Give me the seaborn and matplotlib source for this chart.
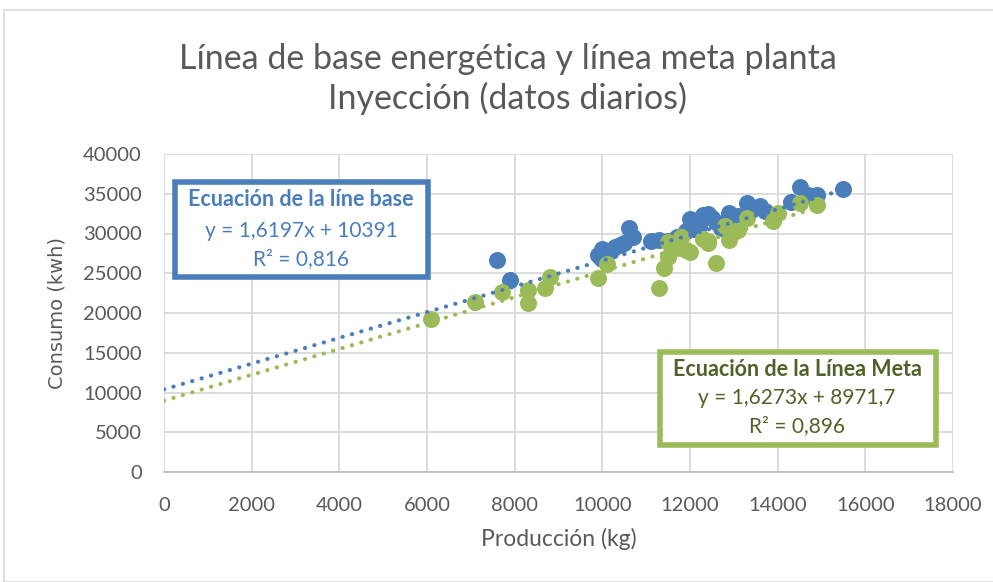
import numpy as np
import pandas as pd
import seaborn as sns
import matplotlib
matplotlib.use("Agg")
import matplotlib.pyplot as plt
from matplotlib.patches import Rectangle

# ---- data ----
base_x = [7600, 7900, 9900, 10000, 10000, 10100, 10200, 10300, 10400, 10500, 10600, 10700,
          11100, 11300, 11500, 11700, 11900, 12000, 12100, 12200, 12300, 12400, 12500, 12600,
          12700, 12800, 12900, 13000, 13100, 13300, 13400, 13600, 13700, 13900, 14300, 14500,
          14700, 14900, 15500]
base_y = [26700, 24200, 27300, 28000, 26800, 27500, 27800, 28300, 28600, 28800, 30700, 29600,
          29100, 29200, 29000, 29500, 30300, 31800, 30600, 31000, 32300, 32500, 32000, 31500,
          30700, 31100, 32600, 31800, 32200, 33800, 33000, 33500, 32800, 32000, 33900, 35800,
          34900, 34800, 35600]
meta_x = [6100, 7100, 7700, 8300, 8300, 8700, 8800, 9900, 10100, 11300, 11400, 11500, 11500,
          11700, 11800, 11900, 12000, 12300, 12400, 12400, 12600, 12800, 12900, 13000, 13100,
          13300, 13900, 14000, 14500, 14900]
meta_y = [19300, 21400, 22700, 21300, 22900, 23200, 24500, 24400, 26200, 23200, 25700, 27000,
          28900, 28200, 29600, 27900, 27700, 29300, 29100, 28800, 26300, 31000, 29200, 30200,
          30400, 31900, 31600, 32600, 33800, 33600]
base_coef = [1.6197, 10391]
meta_coef = [1.6273, 8971.7]
x_ticks = [0, 2000, 4000, 6000, 8000, 10000, 12000, 14000, 16000, 18000]
y_ticks = [0, 5000, 10000, 15000, 20000, 25000, 30000, 35000, 40000]

title = "Línea de base energética y línea meta planta\nInyección (datos diarios)"
base_box = ["Ecuación de la líne base", "y = 1,6197x + 10391", "R² = 0,816"]
meta_box = ["Ecuación de la Línea Meta", "y = 1,6273x + 8971,7", "R² = 0,896"]

BLUE = "#4a7ebb"
GREEN = "#9bbb59"
TXT = "#595959"

sns.set_theme(style="white")
plt.rcParams['font.family'] = ['Lato', 'DejaVu Sans']

fig = plt.figure(figsize=(9.93, 5.82), dpi=100)
ax = fig.add_axes([164/993, 1-472/582, (953-164)/993, (472-154)/582])

df_b = pd.DataFrame({"x": base_x, "y": base_y})
df_m = pd.DataFrame({"x": meta_x, "y": meta_y})

sns.scatterplot(data=df_b, x="x", y="y", ax=ax, color=BLUE, s=150, linewidth=0, zorder=3)
sns.scatterplot(data=df_m, x="x", y="y", ax=ax, color=GREEN, s=150, linewidth=0, zorder=4)

xb = np.array([0, max(base_x)])
xm = np.array([0, max(meta_x)])
ax.plot(xb, np.polyval(base_coef, xb), color=BLUE, lw=3, linestyle=(0, (0.05, 2.3)),
        dash_capstyle="round", zorder=5)
ax.plot(xm, np.polyval(meta_coef, xm), color=GREEN, lw=3, linestyle=(0, (0.05, 2.3)),
        dash_capstyle="round", zorder=5)

ax.set_xlim(0, 18000)
ax.set_ylim(0, 40000)
ax.set_xticks(x_ticks)
ax.set_yticks(y_ticks)
ax.grid(True, color="#d9d9d9", lw=1.3)
ax.set_axisbelow(True)
for s in ["top", "right", "left"]:
    ax.spines[s].set_visible(False)
ax.spines["bottom"].set_color("#bfbfbf")
ax.spines["bottom"].set_linewidth(1.3)
ax.tick_params(axis="both", colors=TXT, labelsize=14.5, length=0)
ax.tick_params(axis="y", pad=16)
ax.tick_params(axis="x", pad=18)
ax.set_xlabel("Producción (kg)", color=TXT, fontsize=16.5, labelpad=10)
ax.set_ylabel("Consumo (kwh)", color=TXT, fontsize=14, labelpad=12, family="DejaVu Sans")

fig.text(508/993, 1-79/582, title, ha="center", va="center", color=TXT,
         fontsize=24.5, linespacing=1.22)

# chart border
fig.patches.append(Rectangle((4/993, 0), 1.2, 1-10/582, transform=fig.transFigure,
                             fill=False, edgecolor="#d9d9d9", lw=1.2))

def box(x0, y0, x1, y1, ec, tc, lines, cx, ys):
    fig.patches.append(Rectangle((x0/993, 1-y1/582), (x1-x0)/993, (y1-y0)/582,
                                 transform=fig.transFigure, facecolor="white",
                                 edgecolor=ec, lw=4, zorder=10))
    for i, (t, yy) in enumerate(zip(lines, ys)):
        fig.text(cx/993, 1-yy/582, t, ha="center", va="center", color=tc,
                 fontsize=15.5 if i == 0 else 15,
                 fontweight="bold" if i == 0 else "normal", zorder=11)

box(175, 182, 428, 277, BLUE, BLUE, base_box, 301, [199, 231, 259])
box(660, 352, 936, 445, GREEN, "#4f6228", meta_box, 797, [369, 398, 426])

fig.savefig("out.png", dpi=100)
